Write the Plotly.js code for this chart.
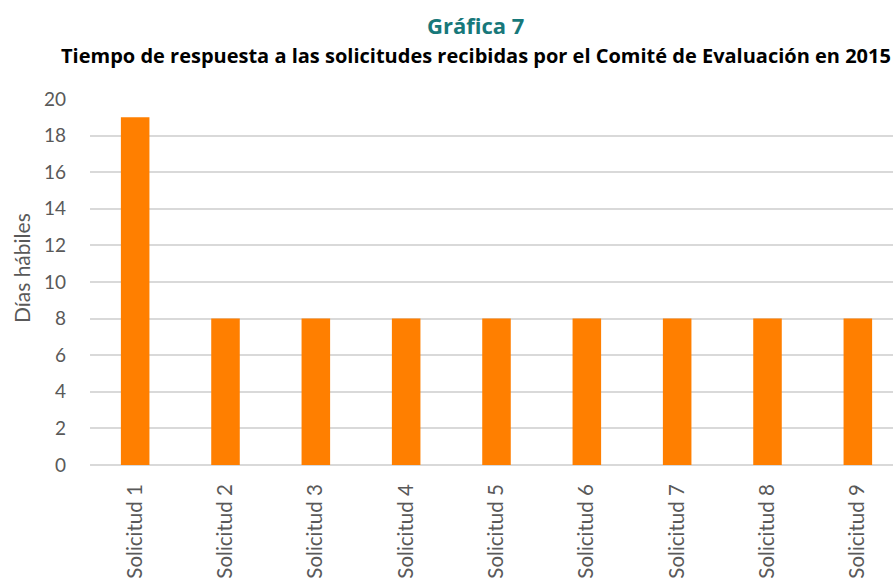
<!DOCTYPE html>
<html>
<head>
<meta charset="utf-8">
<script src="https://cdn.plot.ly/plotly-3.0.1.min.js"></script>
<style>
html,body{margin:0;padding:0;overflow:hidden;background:#fff;}
#chart{width:906px;height:580px;}
</style>
</head>
<body>
<div id="chart"></div>
<script>
const categories = ["Solicitud 1","Solicitud 2","Solicitud 3","Solicitud 4","Solicitud 5","Solicitud 6","Solicitud 7","Solicitud 8","Solicitud 9"];
const dias = [19, 8, 8, 8, 8, 8, 8, 8, 8];
const yTicks = [0, 2, 4, 6, 8, 10, 12, 14, 16, 18, 20];
const titleText = "Gráfica 7";
const subtitleText = "Tiempo de respuesta a las solicitudes recibidas por el Comité de Evaluación en 2015";
const yTitle = "Días hábiles";

const font = "Lato, Open Sans, sans-serif";
const titleFont = "Open Sans, Lato, sans-serif";

Plotly.newPlot("chart", [{
  type: "bar",
  x: categories,
  y: dias,
  marker: {color: "#FF7F00"},
  hoverinfo: "x+y"
}], {
  width: 906,
  height: 580,
  margin: {l: 90, r: 3, t: 99, b: 115},
  paper_bgcolor: "#ffffff",
  plot_bgcolor: "#ffffff",
  bargap: 0.684,
  showlegend: false,
  font: {family: font, color: "#595959"},
  xaxis: {
    tickangle: -90,
    tickfont: {size: 20.5, color: "#595959", family: font},
    ticklabelstandoff: 14,
    showgrid: false,
    showline: false,
    zeroline: false,
    ticks: ""
  },
  yaxis: {
    range: [0, 20],
    tickvals: yTicks,
    tickfont: {size: 19, color: "#595959", family: font},
    ticklabelstandoff: 23,
    showgrid: true,
    gridcolor: "#D9D9D9",
    gridwidth: 1.5,
    zeroline: true,
    zerolinecolor: "#D9D9D9",
    zerolinewidth: 1.5,
    showline: false,
    ticks: ""
  },
  annotations: [
    {text: "<b>" + titleText + "</b>", xref: "paper", yref: "paper", x: 0.4736, y: 1.2022,
     xanchor: "center", yanchor: "middle", showarrow: false,
     font: {size: 22, color: "#17787A", family: titleFont}},
    {text: "<b>" + subtitleText + "</b>", xref: "paper", yref: "paper", x: 0.4748, y: 1.1189,
     xanchor: "center", yanchor: "middle", showarrow: false,
     font: {size: 20, color: "#000000", family: titleFont}},
    {text: yTitle, xref: "paper", yref: "paper", x: -0.0849, y: 0.538,
     xanchor: "center", yanchor: "middle", textangle: -90, showarrow: false,
     font: {size: 21, color: "#595959", family: font}}
  ]
}, {displayModeBar: false});
</script>
</body>
</html>
